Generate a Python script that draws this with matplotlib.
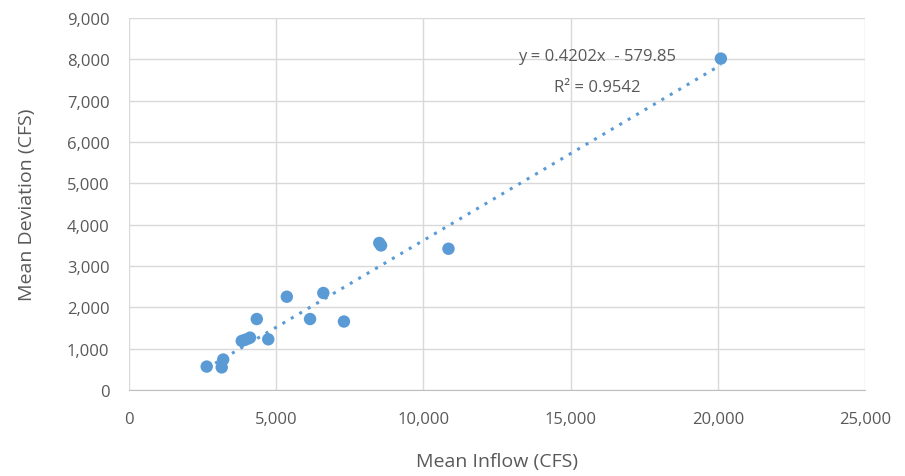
import numpy as np
import matplotlib.pyplot as plt
from matplotlib.ticker import FuncFormatter

plt.rcParams['font.family'] = ['Open Sans', 'DejaVu Sans']

# Datos
inflow = [2640, 3150, 3200, 3830, 3950, 4110, 4340, 4730, 5360, 6150, 6600, 7300, 8500, 8560, 10850, 20100]
deviation = [570, 550, 740, 1190, 1220, 1270, 1720, 1230, 2260, 1720, 2350, 1660, 3560, 3500, 3420, 8020]

pendiente = 0.4202
intercepto = -579.85
r2 = 0.9542

azul = '#5B9BD5'
gris = '#595959'

fig = plt.figure(figsize=(9.05, 4.77), dpi=100)
ax = fig.add_axes([0.1425, 0.180, 0.8135, 0.780])

x_linea = np.linspace(min(inflow), max(inflow), 100)
ax.plot(x_linea, pendiente * x_linea + intercepto, linestyle=(0, (1, 2.2)),
        color=azul, linewidth=2.2, zorder=2)
ax.scatter(inflow, deviation, s=80, color=azul, zorder=3, edgecolors='none')

ax.set_xlim(0, 25000)
ax.set_ylim(0, 9000)
ax.set_xticks(np.arange(0, 25001, 5000))
ax.set_yticks(np.arange(0, 9001, 1000))
fmt = FuncFormatter(lambda v, p: f"{int(v):,}")
ax.xaxis.set_major_formatter(fmt)
ax.yaxis.set_major_formatter(fmt)

ax.grid(True, color='#D9D9D9', linewidth=1)
ax.set_axisbelow(True)
for lado in ['top', 'right', 'left']:
    ax.spines[lado].set_visible(False)
ax.spines['bottom'].set_color('#BFBFBF')
ax.tick_params(axis='x', length=0, labelsize=12, colors=gris, pad=15)
ax.tick_params(axis='y', length=0, labelsize=12, colors=gris, pad=14)

ax.set_xlabel("Mean Inflow (CFS)", fontsize=14, color=gris, labelpad=18)
ax.set_ylabel("Mean Deviation (CFS)", fontsize=14, color=gris, labelpad=22)

ax.text(15900, 8080, "y = 0.4202x  - 579.85", fontsize=12, color=gris, ha='center', va='center')
ax.text(15900, 7330, "R² = 0.9542", fontsize=12, color=gris, ha='center', va='center')

fig.savefig("out.png", dpi=100)
